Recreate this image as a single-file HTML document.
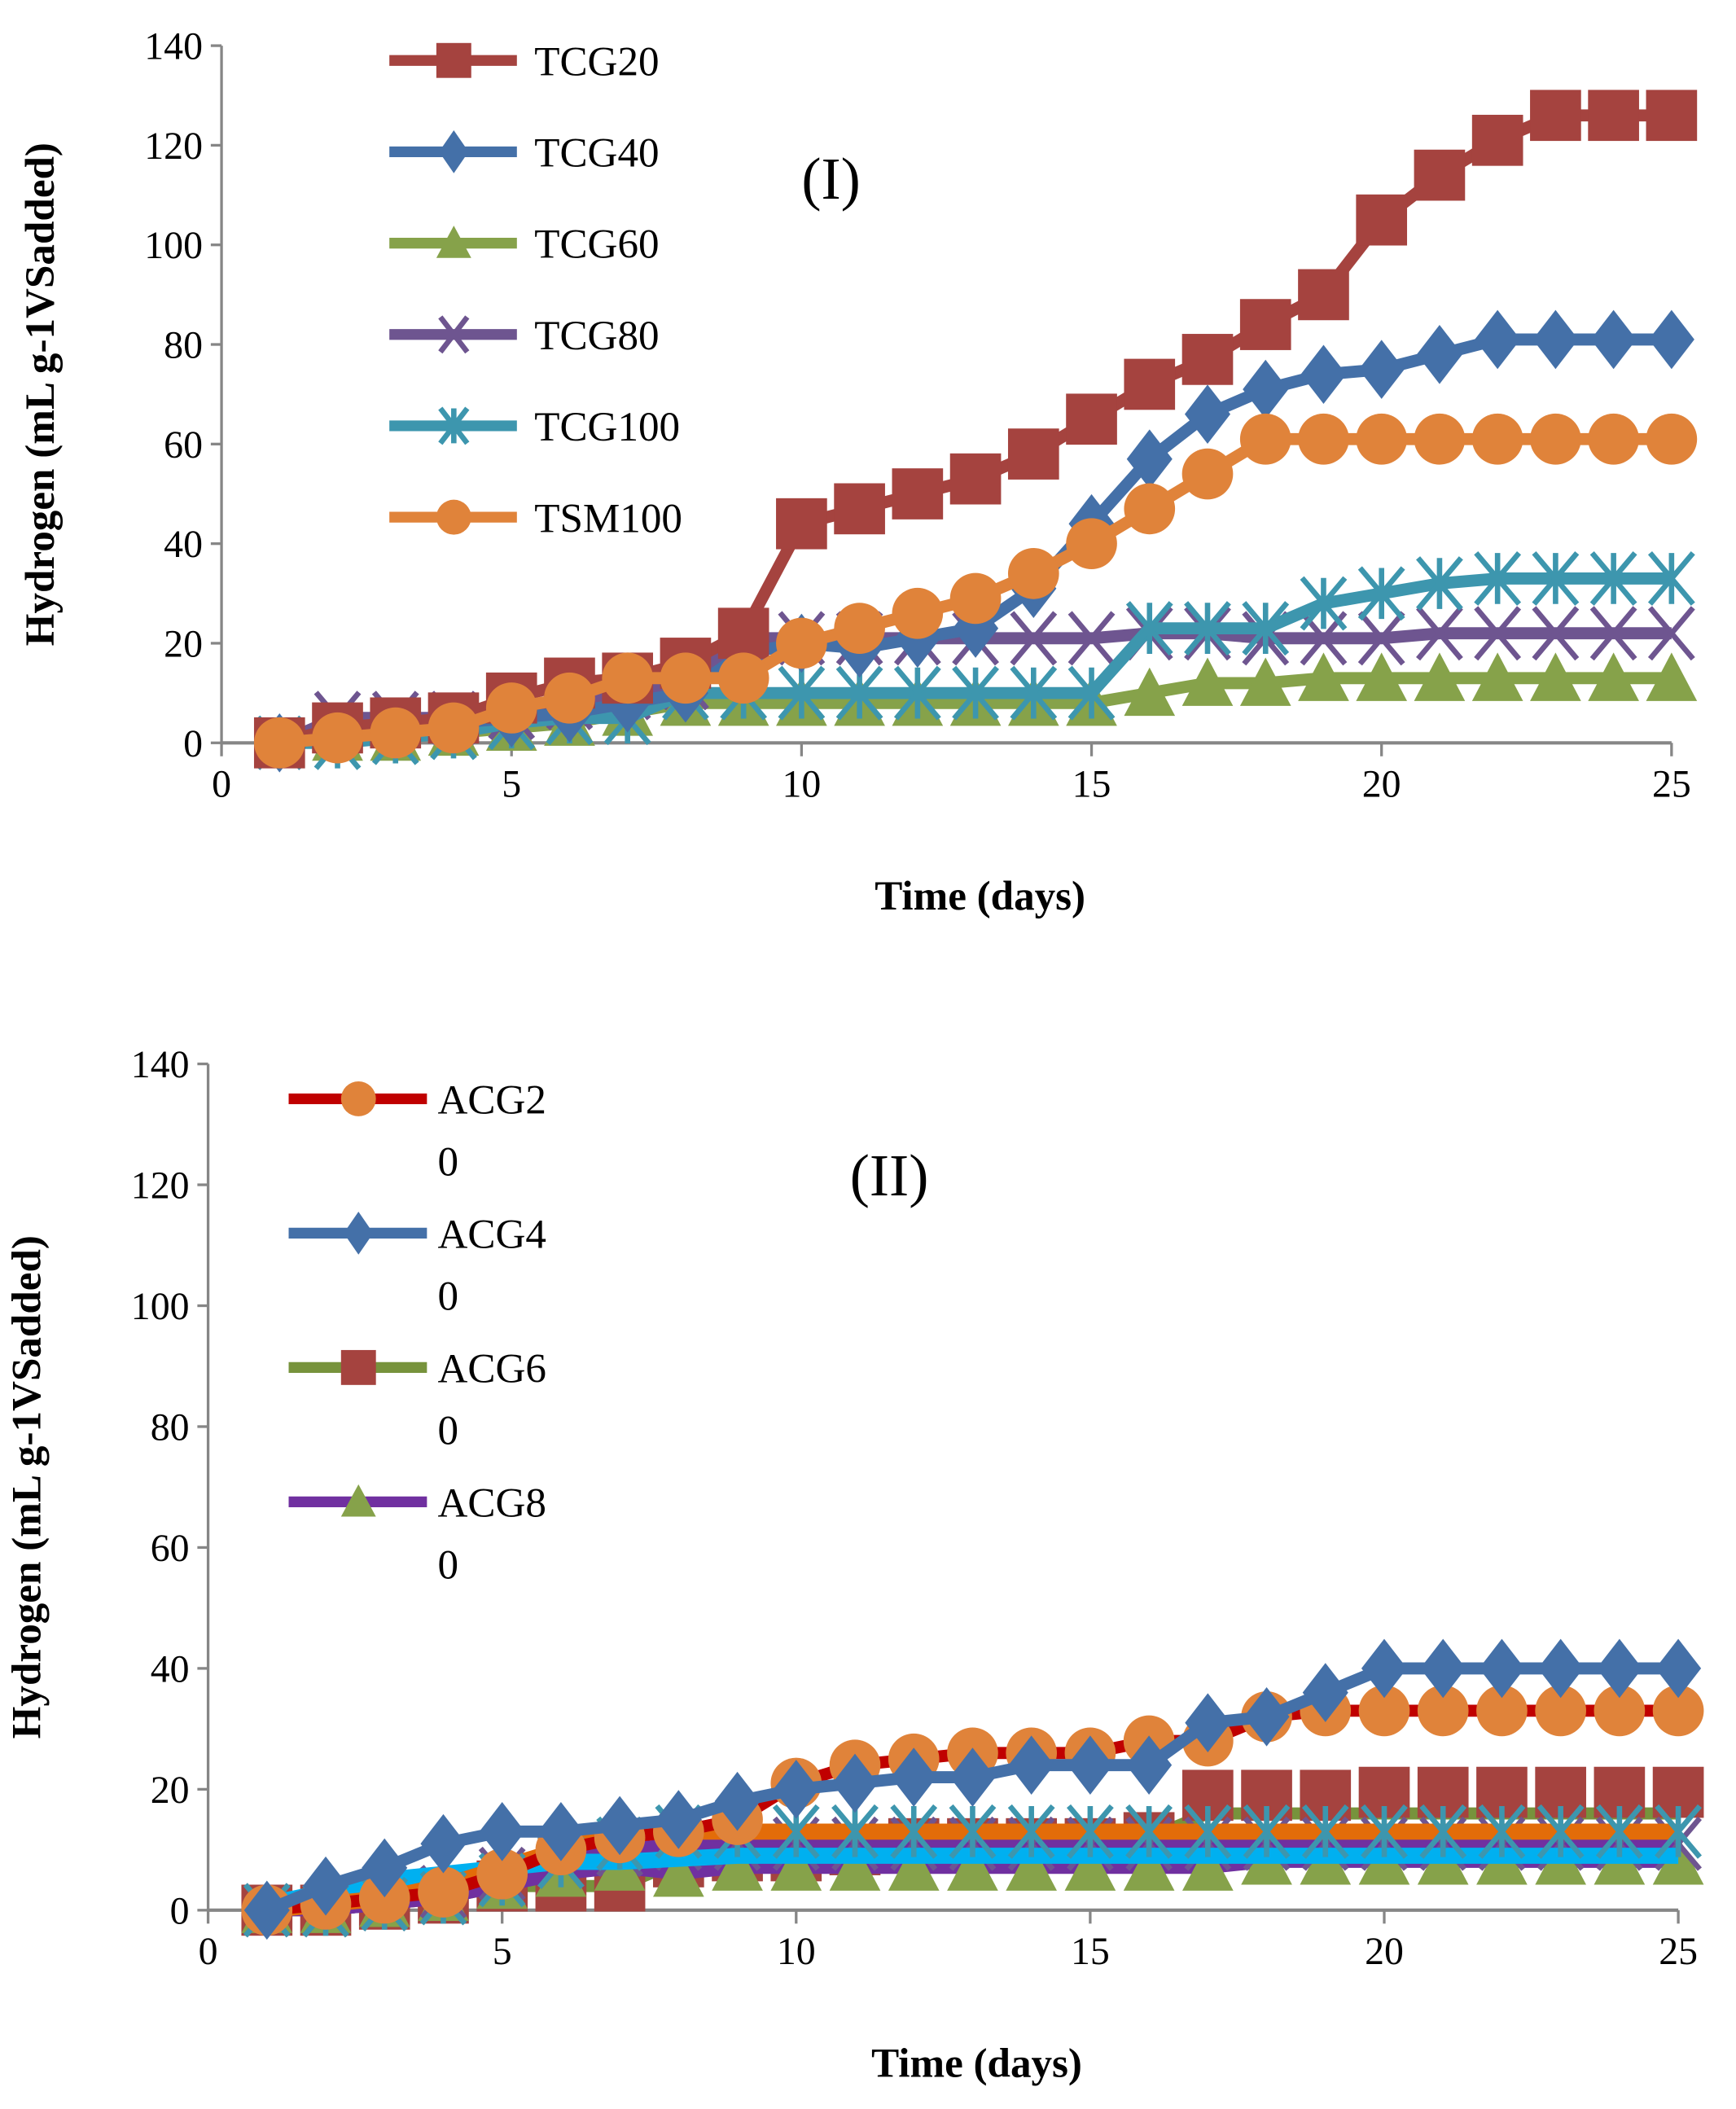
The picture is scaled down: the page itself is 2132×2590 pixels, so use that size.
<!DOCTYPE html>
<html><head><meta charset="utf-8"><style>
html,body{margin:0;padding:0;background:#fff}
svg{display:block}
text{font-family:"Liberation Serif",serif;fill:#000}
</style></head><body>
<svg id="s" width="2132" height="2590" viewBox="0 0 1293 1570" preserveAspectRatio="none" xmlns="http://www.w3.org/2000/svg">
<rect width="1293" height="1570" fill="#fff"/>
<g id="g"></g>
</svg>
<script>
const g=document.getElementById('g');let h='';
function axes(x0,y0,yTop,xEnd,step,ylab,title,tx,ty){
 h+=`<line x1="${x0}" y1="${yTop}" x2="${x0}" y2="${y0}" stroke="#868686" stroke-width="2"/>`;
 h+=`<line x1="${x0}" y1="${y0}" x2="${xEnd}" y2="${y0}" stroke="#868686" stroke-width="2.5"/>`;
 for(let i=0;i<=7;i++){let y=y0-(y0-yTop)*i/7;h+=`<line x1="${x0-8}" y1="${y}" x2="${x0}" y2="${y}" stroke="#868686" stroke-width="2"/>`;
  h+=`<text x="${x0-14}" y="${y+10}" font-size="29" text-anchor="end">${i*20}</text>`;}
 for(let i=0;i<=5;i++){let x=x0+(xEnd-x0)*i/5;h+=`<line x1="${x}" y1="${y0}" x2="${x}" y2="${y0+10}" stroke="#868686" stroke-width="2"/>`;
  h+=`<text x="${x}" y="${y0+40}" font-size="29" text-anchor="middle">${i*5}</text>`;}
 h+=`<text x="${(x0+xEnd)/2+25}" y="${y0+124}" font-size="31" font-weight="bold" text-anchor="middle">Time (days)</text>`;
 h+=`<text transform="translate(${ylab},${(y0+yTop)/2}) rotate(-90)" font-size="31" font-weight="bold" text-anchor="middle">Hydrogen (mL g-1VSadded)</text>`;
 h+=`<text x="${tx}" y="${ty}" font-size="44">${title}</text>`;
}
function mk(t,x,y,c,s){s=s||19;
 if(t=='sq')return `<rect x="${x-s}" y="${y-s}" width="${2*s}" height="${2*s}" fill="${c}"/>`;
 if(t=='di')return `<polygon points="${x},${y-s-3} ${x+s-2},${y} ${x},${y+s+3} ${x-s+2},${y}" fill="${c}"/>`;
 if(t=='tr')return `<polygon points="${x},${y-s} ${x+s},${y+s-2} ${x-s},${y+s-2}" fill="${c}"/>`;
 if(t=='ci')return `<circle cx="${x}" cy="${y}" r="${s}" fill="${c}"/>`;
 if(t=='x')return `<path d="M${x-s+3} ${y-s}L${x+s-3} ${y+s}M${x+s-3} ${y-s}L${x-s+3} ${y+s}" stroke="${c}" stroke-width="4"/>`;
 if(t=='as')return `<path d="M${x-s+3} ${y-s}L${x+s-3} ${y+s}M${x+s-3} ${y-s}L${x-s+3} ${y+s}M${x} ${y-s}L${x} ${y+s}" stroke="${c}" stroke-width="4"/>`;
 return '';
}
function series(X,Y,d,lc,m,mc,lw){
 let p=d.map((v,i)=>X(i+1)+','+Y(v)).join(' ');
 h+=`<polyline points="${p}" fill="none" stroke="${lc}" stroke-width="${lw||9}" stroke-linejoin="round"/>`;
 if(m)d.forEach((v,i)=>h+=mk(m,X(i+1),Y(v),mc));
}
let X1=d=>165+43.2*d, Y1=v=>553-v*3.707;
axes(165,553,34,1245,0,40,'(I)',597,148);
const T=[
[[0,3,4,5,9,12,13,16,22,44,47,50,53,58,65,72,77,84,90,105,114,121,126,126,126],'#A5433F','sq','TCG20'],
[[0,2,3,4,5,6,8,10,18,20,19,21,23,31,44,57,66,71,74,75,78,81,81,81,81],'#4470A8','di','TCG40'],
[[0,1,1,2,3,4,6,8,8,8,8,8,8,8,8,10,12,12,13,13,13,13,13,13,13],'#86A24A','tr','TCG60'],
[[0,5,5,5,6,8,10,12,21,21,21,21,21,21,21,22,22,21,21,21,22,22,22,22,22],'#6E5590','x','TCG80'],
[[0,0,1,2,4,5,5,10,10,10,10,10,10,10,10,23,23,23,28,30,32,33,33,33,33],'#3D96AE','as','TCG100'],
[[0,1,2,3,7,9,13,13,13,20,23,26,29,34,40,47,54,61,61,61,61,61,61,61,61],'#E0833A','ci','TSM100']];
[2,3,4,1,0,5].forEach(i=>{let s=T[i];series(X1,Y1,s[0],s[1],s[2],s[1]);});
T.forEach((s,i)=>{let y=45+68*i;h+=`<line x1="290" y1="${y}" x2="385" y2="${y}" stroke="${s[1]}" stroke-width="8"/>`+mk(s[2],338,y,s[1],13);
 h+=`<text x="398" y="${y+11}" font-size="31">${s[3]}</text>`;});
let X2=d=>155+43.8*d, Y2=v=>1422-v*4.5;
axes(155,1422,792,1250,0,30,'(II)',633,890);
series(X2,Y2,[0,0,1,2,4,4,4,8,9,9,10,11,11,11,11,12,16,16,16,16,16,16,16,16,16],'#77933C',null,null);
series(X2,Y2,[0,0,1,2,4,4,4,8,9,9,10,11,11,11,11,12,19,19,19,19.5,19.5,19.5,19.5,19.5,19.5],'none','sq','#A5433F');
series(X2,Y2,[0,0,1,2,4,6,7,6,7,7,7,7,7,7,7,7,7,8,8,8,8,8,8,8,8],'#7030A0','tr','#86A24A');
series(X2,Y2,[0,0,1,3,6,8,10,11,11,11,11,11,11,11,11,11,11,11,11,11,11,11,11,11,11],'#7030A0','x','#6E5590');
series(X2,Y2,[1,3,5,6,7,8,8,8.5,9,9,9,9,9,9,9,9,9,9,9,9,9,9,9,9,9],'#00B0F0',null,null,12);
series(X2,Y2,[0,1,2,4,7,10,13,13,13,13,13,13,13,13,13,13,13,13,13,13,13,13,13,13,13],'#E36C09',null,null,12);
series(X2,Y2,[0,0,1,2,5,8,11,13,13,13,13,13,13,13,13,13,13,13,13,13,13,13,13,13,13],'none','as','#3D96AE');
series(X2,Y2,[0,1,2,3,6,10,12,13,15,21,24,25,26,26,26,28,28,32,33,33,33,33,33,33,33],'#C00000','ci','#E0833A');
series(X2,Y2,[0,4,7,11,13,13,14,15,18,20,21,22,22,24,24,24,31,32,36,40,40,40,40,40,40],'#4470A8','di','#4470A8');
const L=[['#C00000','ci','#E0833A','ACG2'],['#4470A8','di','#4470A8','ACG4'],['#77933C','sq','#A5433F','ACG6'],['#7030A0','tr','#86A24A','ACG8']];
L.forEach((s,i)=>{let y=818+100*i;h+=`<line x1="215" y1="${y}" x2="318" y2="${y}" stroke="${s[0]}" stroke-width="8"/>`+mk(s[1],267,y,s[2],13);
 h+=`<text x="326" y="${y+11}" font-size="31">${s[3]}</text><text x="326" y="${y+57}" font-size="31">0</text>`;});
g.innerHTML=h;
</script>
</body></html>
